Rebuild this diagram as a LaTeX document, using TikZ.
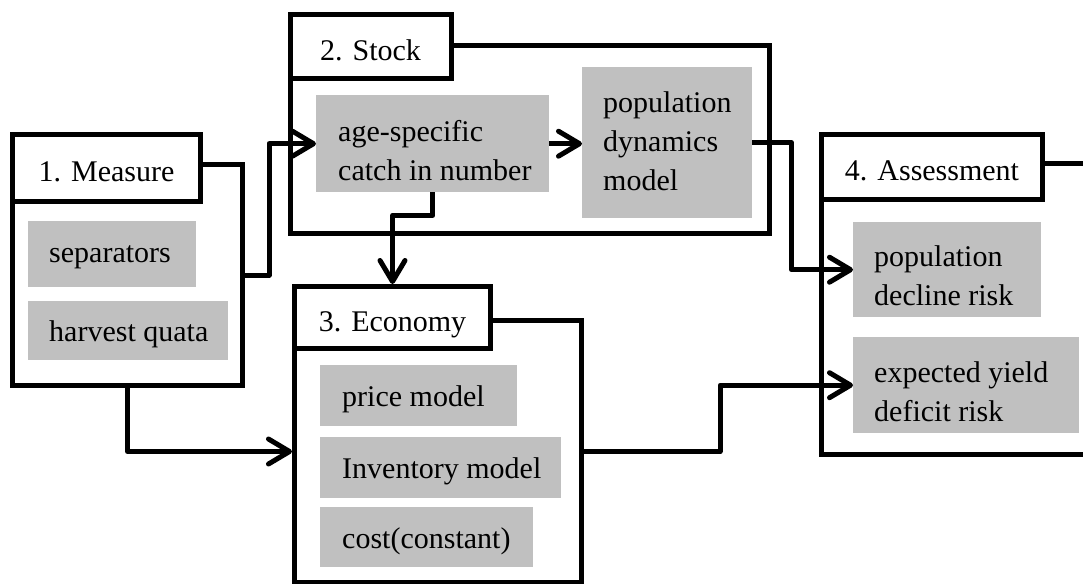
\documentclass[tikz,border=0pt]{standalone}
\usepackage{fontspec}
\setmainfont{Liberation Serif}
\usetikzlibrary{arrows.meta}
\definecolor{boxgray}{RGB}{192,192,192}
\begin{document}
\begin{tikzpicture}[x=1pt,y=-1pt,
  outerbox/.style={draw=black, line width=5pt, rectangle, inner sep=0pt, anchor=north west},
  titlebox/.style={draw=black, fill=white, line width=5pt, rectangle, inner sep=0pt, anchor=north west,
    font=\fontsize{30}{39}\selectfont, text height=27pt, text depth=0pt},
  gbox/.style={fill=boxgray, draw=none, rectangle, inner sep=0pt, anchor=north west},
  txt/.style={anchor=base west, inner sep=0pt, align=left, font=\fontsize{30}{39}\selectfont},
  arr/.style={line width=5pt, line join=round, -{Straight Barb[length=21pt,width=25pt,round]}}
]
\useasboundingbox (0,0) rectangle (1083,583);
\clip (0,0) rectangle (1083,583);

% outer frames
\node[outerbox, minimum width=230pt, minimum height=221pt] (measure) at (10,162) {};
\node[outerbox, minimum width=479.5pt, minimum height=188pt] (stock) at (287.5,43) {};
\node[outerbox, minimum width=287pt, minimum height=262pt] (economy) at (292,318) {};
\node[outerbox, minimum width=300pt, minimum height=291pt] (assess) at (819,161) {};

% titles
\node[titlebox, minimum width=188pt, minimum height=67pt] (mtitle) at (10,132) {1. Measure};
\node[titlebox, minimum width=161pt, minimum height=64pt] (stitle) at (287.5,12.5) {2. Stock};
\node[titlebox, minimum width=196pt, minimum height=62pt] (etitle) at (292,284) {3. Economy};
\node[titlebox, minimum width=221pt, minimum height=65pt] (atitle) at (819,132) {4. Assessment};

% gray boxes
\node[gbox, minimum width=168pt, minimum height=66pt] (sep) at (28,221) {};
\node[gbox, minimum width=200pt, minimum height=59pt] (harv) at (28,301) {};
\node[gbox, minimum width=233pt, minimum height=97pt] (age) at (316,95) {};
\node[gbox, minimum width=170pt, minimum height=151pt] (pop) at (582,67) {};
\node[gbox, minimum width=197pt, minimum height=61pt] (price) at (320,365) {};
\node[gbox, minimum width=241pt, minimum height=61pt] (inv) at (320,437) {};
\node[gbox, minimum width=213pt, minimum height=60pt] (cost) at (320,507) {};
\node[gbox, minimum width=188pt, minimum height=95pt] (popdec) at (853,222) {};
\node[gbox, minimum width=226pt, minimum height=96pt] (exp) at (853,337) {};

% texts (multi-line nodes: base = last line's baseline)
\node[txt] (sepT) at (49,262) {separators};
\node[txt] (harvT) at (49,341) {harvest quata};
\node[txt] (ageT) at (338,180) {age-specific\\catch in number};
\node[txt] (popT) at (603,190) {population\\dynamics\\model};
\node[txt] (priceT) at (342,406) {price model};
\node[txt] (invT) at (342,478) {Inventory model};
\node[txt] (costT) at (342,548) {cost(constant)};
\node[txt] (popdecT) at (874,305) {population\\decline risk};
\node[txt] (expT) at (874,421) {expected yield\\deficit risk};

% connectors
\draw[arr] (measure.east) -- ++(24,0) |- (age.west);
\draw[arr] (age.east) -- (age.east -| pop.west);
\draw[arr] (age.south) -- ++(0,23) -| (etitle.north);
\draw[arr] (pop.east) -- ++(39,0) |- (popdec.west);
\draw[arr] (measure.south) |- (economy.west);
\draw[arr] (economy.east) -- ++(136,0) |- (exp.west);
\end{tikzpicture}
\end{document}
